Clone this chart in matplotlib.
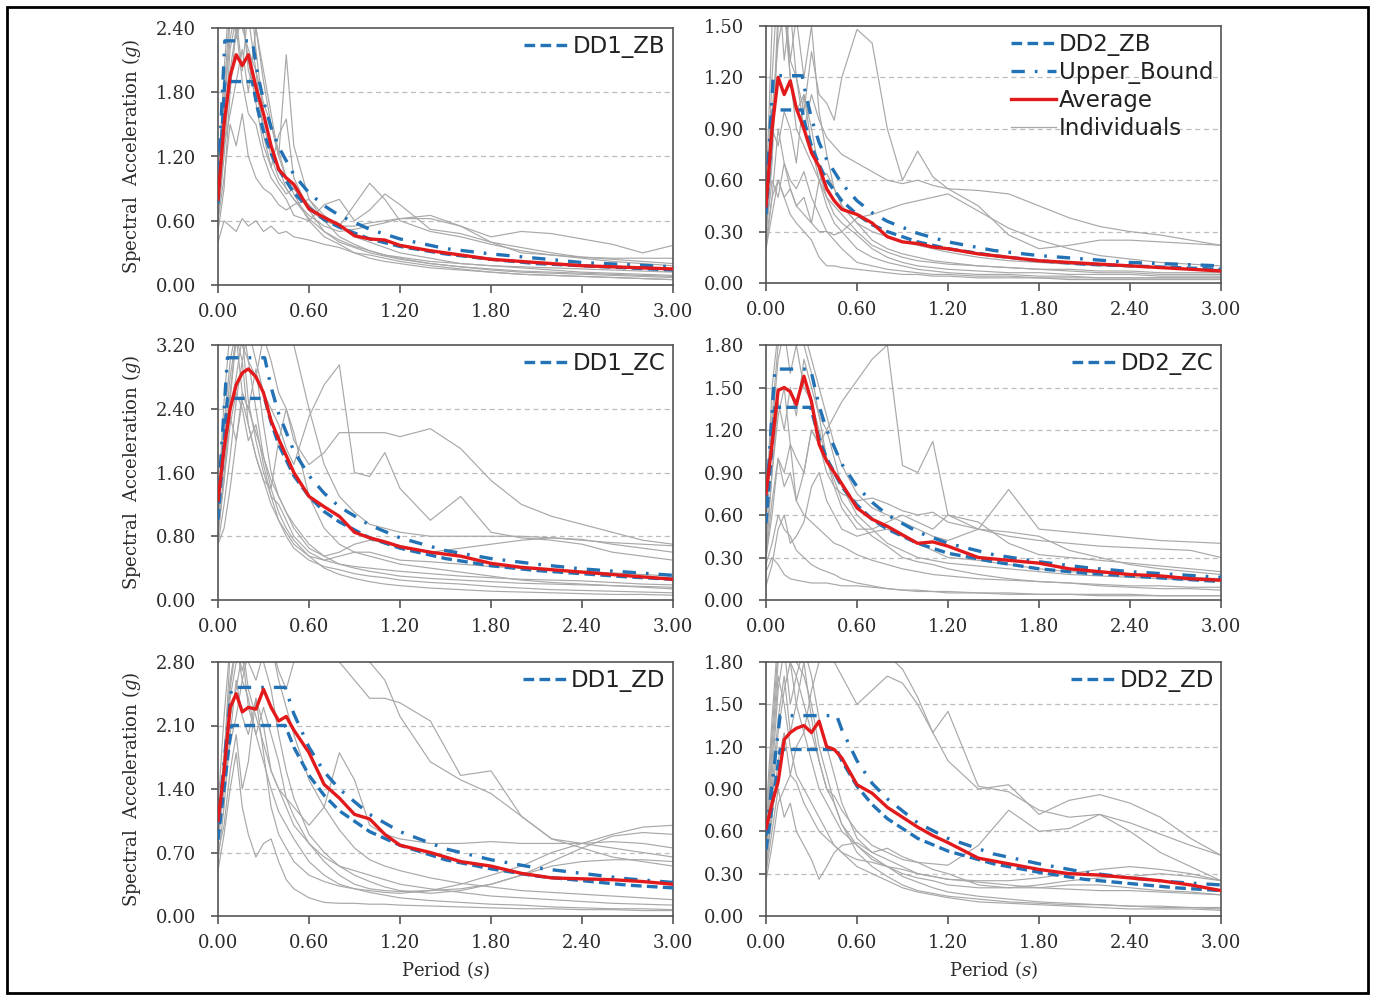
import matplotlib
matplotlib.use("Agg")
import matplotlib.pyplot as plt
from matplotlib.lines import Line2D
from matplotlib.patches import Rectangle

plt.rcParams['mathtext.fontset'] = 'dejavuserif'

# ---------------- data ----------------
T_REC = [0.0, 0.04, 0.08, 0.12, 0.16, 0.2, 0.25, 0.3, 0.35, 0.4, 0.45, 0.5,
         0.6, 0.7, 0.8, 0.9, 1.0, 1.1, 1.2,
         1.4, 1.6, 1.8, 2.0, 2.2, 2.4, 2.6, 2.8, 3.0]

X_TICKS = [0.0, 0.6, 1.2, 1.8, 2.4, 3.0]

# ---- DD1_ZB ----
DD1_ZB_T = [0, 0.045, 0.226, 0.26, 0.3, 0.35, 0.4, 0.5, 0.6, 0.7, 0.8, 1.0, 1.2, 1.5, 1.8, 2.1, 2.4, 2.7, 3.0]
DD1_ZB_DESIGN = [0.76, 1.90, 1.90, 1.65, 1.43, 1.23, 1.08, 0.86, 0.72, 0.61, 0.54, 0.43, 0.36, 0.29, 0.24, 0.20, 0.18, 0.16, 0.14]
DD1_ZB_UPPER = [0.91, 2.28, 2.28, 1.98, 1.72, 1.47, 1.29, 1.03, 0.86, 0.74, 0.65, 0.52, 0.43, 0.34, 0.29, 0.25, 0.21, 0.19, 0.17]
DD1_ZB_AVG = [0.8, 1.5, 1.95, 2.15, 2.05, 2.15, 1.85, 1.6, 1.3, 1.08, 1.0, 0.94,
              0.71, 0.63, 0.56, 0.46, 0.43, 0.42, 0.37,
              0.32, 0.28, 0.24, 0.22, 0.2, 0.18, 0.17, 0.16, 0.15]
DD1_ZB_IND = [
    [0.9, 1.8, 2.6, 3.0, 2.7, 2.9, 2.2, 1.6, 1.3, 1.1, 0.9, 0.8, 0.62, 0.5, 0.42, 0.36, 0.32, 0.28, 0.25, 0.2, 0.17, 0.14, 0.12, 0.11, 0.1, 0.09, 0.08, 0.07],
    [0.7, 1.4, 2.2, 2.5, 2.0, 2.6, 2.4, 1.9, 1.5, 1.2, 2.15, 1.3, 0.8, 0.65, 0.55, 0.45, 0.4, 0.35, 0.3, 0.25, 0.2, 0.18, 0.16, 0.14, 0.12, 0.11, 0.1, 0.09],
    [0.4, 0.6, 0.55, 0.5, 0.62, 0.55, 0.6, 0.5, 0.55, 0.48, 0.5, 0.45, 0.42, 0.38, 0.35, 0.3, 0.28, 0.25, 0.22, 0.18, 0.15, 0.12, 0.1, 0.09, 0.08, 0.07, 0.06, 0.05],
    [0.6, 1.0, 1.5, 1.3, 1.6, 1.2, 1.0, 0.9, 0.85, 0.75, 0.7, 0.75, 0.8, 0.6, 0.55, 0.75, 0.95, 0.8, 0.6, 0.5, 0.45, 0.38, 0.32, 0.28, 0.25, 0.22, 0.2, 0.18],
    [0.5, 0.9, 1.8, 2.4, 1.9, 1.6, 1.5, 1.2, 1.0, 0.9, 0.8, 0.65, 0.6, 0.75, 0.8, 0.6, 0.7, 0.85, 0.75, 0.52, 0.48, 0.4, 0.35, 0.3, 0.26, 0.24, 0.22, 0.2],
    [0.8, 1.6, 2.5, 2.8, 2.4, 2.2, 2.0, 1.7, 1.5, 1.25, 1.0, 0.9, 0.75, 0.6, 0.55, 0.55, 0.58, 0.6, 0.62, 0.62, 0.55, 0.45, 0.5, 0.48, 0.43, 0.38, 0.3, 0.37],
    [0.6, 1.2, 2.0, 2.4, 2.6, 2.0, 1.8, 1.5, 1.2, 1.0, 0.9, 0.8, 0.65, 0.55, 0.5, 0.52, 0.55, 0.58, 0.62, 0.65, 0.55, 0.4, 0.3, 0.28, 0.26, 0.25, 0.25, 0.25],
    [0.9, 2.0, 2.8, 2.3, 2.5, 2.1, 1.7, 1.3, 1.1, 1.4, 1.55, 1.0, 0.7, 0.5, 0.4, 0.35, 0.3, 0.27, 0.24, 0.2, 0.17, 0.15, 0.13, 0.12, 0.11, 0.1, 0.09, 0.08],
    [0.7, 1.3, 1.6, 1.9, 2.2, 1.8, 2.4, 2.0, 1.6, 1.2, 1.0, 0.85, 0.6, 0.45, 0.38, 0.3, 0.25, 0.22, 0.2, 0.16, 0.14, 0.12, 0.1, 0.09, 0.08, 0.07, 0.06, 0.05],
    [1.0, 1.7, 2.3, 2.6, 2.9, 2.5, 2.0, 1.4, 1.1, 0.95, 0.85, 0.9, 0.7, 0.6, 0.45, 0.38, 0.32, 0.28, 0.26, 0.22, 0.2, 0.18, 0.17, 0.16, 0.15, 0.14, 0.13, 0.12],
]

# ---- DD2_ZB ----
DD2_ZB_T = [0, 0.048, 0.238, 0.26, 0.3, 0.35, 0.4, 0.5, 0.6, 0.7, 0.8, 1.0, 1.2, 1.5, 1.8, 2.1, 2.4, 2.7, 3.0]
DD2_ZB_DESIGN = [0.40, 1.01, 1.01, 0.92, 0.80, 0.69, 0.60, 0.48, 0.40, 0.34, 0.30, 0.24, 0.20, 0.16, 0.13, 0.11, 0.10, 0.09, 0.08]
DD2_ZB_UPPER = [0.48, 1.21, 1.21, 1.11, 0.96, 0.82, 0.72, 0.58, 0.48, 0.41, 0.36, 0.29, 0.24, 0.19, 0.16, 0.14, 0.12, 0.11, 0.10]
DD2_ZB_AVG = [0.45, 0.9, 1.2, 1.1, 1.18, 1.02, 0.9, 0.76, 0.68, 0.55, 0.48, 0.43,
              0.4, 0.35, 0.27, 0.24, 0.23, 0.21, 0.2,
              0.17, 0.15, 0.13, 0.12, 0.11, 0.1, 0.09, 0.08, 0.07]
DD2_ZB_IND = [
    [0.3, 0.8, 1.6, 1.7, 1.3, 1.2, 1.0, 1.35, 1.1, 1.05, 0.95, 1.2, 1.48, 1.4, 0.9, 0.6, 0.77, 0.62, 0.55, 0.45, 0.28, 0.2, 0.22, 0.25, 0.25, 0.24, 0.23, 0.22],
    [0.4, 1.2, 1.8, 1.3, 1.6, 1.2, 0.9, 1.1, 0.95, 0.85, 0.8, 0.75, 0.7, 0.65, 0.6, 0.58, 0.6, 0.57, 0.55, 0.54, 0.52, 0.45, 0.38, 0.33, 0.3, 0.28, 0.25, 0.22],
    [0.2, 0.5, 0.6, 0.5, 0.55, 0.45, 0.4, 0.35, 0.3, 0.3, 0.28, 0.3, 0.38, 0.4, 0.43, 0.46, 0.48, 0.5, 0.52, 0.42, 0.32, 0.25, 0.2, 0.16, 0.14, 0.12, 0.11, 0.1],
    [0.5, 1.5, 1.8, 1.6, 1.3, 1.55, 1.2, 1.5, 1.0, 0.75, 0.55, 0.45, 0.35, 0.25, 0.2, 0.17, 0.15, 0.13, 0.12, 0.1, 0.09, 0.08, 0.07, 0.06, 0.06, 0.05, 0.05, 0.05],
    [0.3, 0.6, 0.5, 0.7, 0.55, 0.45, 0.5, 0.35, 0.6, 0.45, 0.35, 0.3, 0.2, 0.15, 0.12, 0.1, 0.08, 0.07, 0.06, 0.05, 0.05, 0.04, 0.04, 0.03, 0.03, 0.03, 0.03, 0.03],
    [0.4, 1.0, 1.4, 1.6, 1.2, 1.0, 1.1, 0.9, 0.65, 0.5, 0.45, 0.4, 0.3, 0.22, 0.18, 0.15, 0.13, 0.12, 0.11, 0.1, 0.09, 0.08, 0.08, 0.07, 0.07, 0.06, 0.06, 0.06],
    [0.2, 0.4, 0.6, 0.5, 0.4, 0.35, 0.3, 0.25, 0.15, 0.1, 0.1, 0.09, 0.08, 0.07, 0.06, 0.05, 0.05, 0.04, 0.04, 0.03, 0.03, 0.03, 0.02, 0.02, 0.02, 0.02, 0.02, 0.02],
    [0.35, 0.9, 0.8, 1.0, 0.9, 0.7, 1.1, 0.8, 0.6, 0.5, 0.4, 0.35, 0.28, 0.2, 0.15, 0.12, 0.1, 0.09, 0.08, 0.07, 0.06, 0.06, 0.05, 0.05, 0.05, 0.04, 0.04, 0.04],
    [0.3, 0.7, 1.5, 1.7, 1.2, 0.9, 0.8, 0.7, 0.6, 0.64, 0.55, 0.45, 0.35, 0.3, 0.27, 0.24, 0.22, 0.2, 0.18, 0.15, 0.13, 0.12, 0.11, 0.1, 0.1, 0.09, 0.08, 0.08],
    [0.25, 0.5, 0.9, 0.7, 0.6, 0.55, 0.65, 0.5, 0.4, 0.3, 0.25, 0.2, 0.12, 0.1, 0.08, 0.07, 0.06, 0.05, 0.05, 0.04, 0.04, 0.03, 0.03, 0.03, 0.03, 0.03, 0.03, 0.03],
]

# ---- DD1_ZC ----
DD1_ZC_T = [0, 0.062, 0.308, 0.35, 0.4, 0.5, 0.6, 0.7, 0.8, 1.0, 1.2, 1.5, 1.8, 2.1, 2.4, 2.7, 3.0]
DD1_ZC_DESIGN = [1.01, 2.53, 2.53, 2.23, 1.95, 1.56, 1.30, 1.11, 0.98, 0.78, 0.65, 0.52, 0.43, 0.37, 0.33, 0.29, 0.26]
DD1_ZC_UPPER = [1.21, 3.04, 3.04, 2.67, 2.34, 1.87, 1.56, 1.34, 1.17, 0.94, 0.78, 0.62, 0.52, 0.45, 0.39, 0.35, 0.31]
DD1_ZC_AVG = [1.25, 1.9, 2.4, 2.7, 2.85, 2.9, 2.8, 2.6, 2.25, 2.02, 1.81, 1.6,
              1.3, 1.17, 1.05, 0.85, 0.78, 0.73, 0.67,
              0.6, 0.55, 0.46, 0.41, 0.38, 0.35, 0.32, 0.29, 0.26]
DD1_ZC_IND = [
    [0.8, 1.5, 2.5, 3.3, 3.0, 3.4, 3.0, 2.6, 2.4, 2.2, 1.9, 1.7, 2.3, 2.7, 2.95, 1.6, 1.55, 1.85, 1.4, 1.0, 1.3, 0.85, 0.78, 0.75, 0.7, 0.6, 0.55, 0.5],
    [1.0, 1.8, 2.6, 3.3, 3.5, 3.0, 2.8, 3.3, 3.0, 2.6, 2.4, 2.0, 1.7, 1.85, 2.1, 2.1, 2.1, 2.1, 2.05, 2.15, 1.9, 1.5, 1.2, 1.05, 0.95, 0.85, 0.75, 0.7],
    [1.2, 2.5, 3.4, 3.6, 3.5, 3.4, 3.5, 3.6, 3.5, 3.4, 3.3, 3.2, 2.4, 1.7, 1.3, 1.1, 0.95, 0.9, 0.85, 0.8, 0.8, 0.8, 0.8, 0.78, 0.75, 0.72, 0.7, 0.68],
    [0.7, 1.2, 1.8, 2.5, 3.0, 2.2, 1.8, 1.5, 1.4, 2.0, 2.4, 2.1, 1.3, 0.9, 0.7, 0.6, 0.55, 0.5, 0.45, 0.4, 0.35, 0.3, 0.25, 0.22, 0.2, 0.18, 0.16, 0.14],
    [1.0, 2.0, 2.8, 3.3, 2.6, 2.4, 2.9, 2.2, 1.6, 1.3, 1.1, 0.9, 0.65, 0.55, 0.6, 0.7, 0.75, 0.72, 0.65, 0.6, 0.65, 0.7, 0.75, 0.78, 0.76, 0.7, 0.65, 0.6],
    [0.9, 1.5, 2.2, 2.6, 2.4, 2.0, 2.2, 1.7, 1.3, 1.0, 0.8, 0.65, 0.5, 0.42, 0.38, 0.33, 0.3, 0.28, 0.25, 0.22, 0.2, 0.17, 0.15, 0.13, 0.12, 0.11, 0.1, 0.09],
    [0.7, 0.9, 1.4, 2.0, 2.5, 2.2, 1.8, 1.5, 1.2, 1.0, 0.85, 0.7, 0.55, 0.5, 0.55, 0.6, 0.6, 0.55, 0.5, 0.48, 0.45, 0.42, 0.4, 0.38, 0.36, 0.34, 0.32, 0.3],
    [1.1, 2.2, 3.0, 3.4, 3.2, 3.0, 2.4, 1.8, 1.4, 1.1, 0.9, 0.75, 0.55, 0.4, 0.32, 0.27, 0.23, 0.2, 0.18, 0.15, 0.13, 0.11, 0.1, 0.09, 0.08, 0.07, 0.07, 0.06],
    [0.8, 1.6, 2.4, 2.8, 3.3, 2.5, 2.0, 1.6, 1.3, 1.2, 1.0, 0.8, 0.6, 0.5, 0.45, 0.42, 0.4, 0.38, 0.36, 0.33, 0.3, 0.28, 0.26, 0.25, 0.24, 0.22, 0.2, 0.19],
    [1.2, 1.9, 2.3, 2.0, 2.6, 2.4, 2.1, 1.8, 1.5, 1.3, 1.1, 0.95, 0.7, 0.55, 0.45, 0.4, 0.36, 0.33, 0.3, 0.27, 0.25, 0.23, 0.21, 0.2, 0.19, 0.18, 0.17, 0.16],
]

# ---- DD2_ZC ----
DD2_ZC_T = [0, 0.059, 0.294, 0.35, 0.4, 0.5, 0.6, 0.7, 0.8, 1.0, 1.2, 1.5, 1.8, 2.1, 2.4, 2.7, 3.0]
DD2_ZC_DESIGN = [0.54, 1.36, 1.36, 1.14, 1.00, 0.80, 0.67, 0.57, 0.50, 0.40, 0.33, 0.27, 0.22, 0.19, 0.17, 0.15, 0.13]
DD2_ZC_UPPER = [0.65, 1.63, 1.63, 1.37, 1.20, 0.96, 0.80, 0.69, 0.60, 0.48, 0.40, 0.32, 0.27, 0.23, 0.20, 0.18, 0.16]
DD2_ZC_AVG = [0.75, 1.1, 1.48, 1.5, 1.47, 1.38, 1.58, 1.4, 1.1, 0.98, 0.9, 0.82,
              0.65, 0.57, 0.52, 0.46, 0.4, 0.41, 0.38,
              0.3, 0.28, 0.26, 0.22, 0.2, 0.18, 0.17, 0.15, 0.14]
DD2_ZC_IND = [
    [0.3, 0.9, 1.3, 1.5, 1.1, 1.0, 0.9, 1.2, 1.1, 1.2, 1.3, 1.4, 1.55, 1.7, 1.8, 0.95, 0.9, 1.12, 0.6, 0.5, 0.48, 0.45, 0.35, 0.3, 0.25, 0.22, 0.2, 0.18],
    [0.6, 1.5, 1.9, 2.0, 1.9, 1.8, 1.9, 1.7, 1.5, 1.3, 1.1, 0.95, 0.75, 0.65, 0.6, 0.55, 0.5, 0.45, 0.42, 0.5, 0.78, 0.5, 0.48, 0.46, 0.44, 0.42, 0.41, 0.4],
    [0.3, 0.6, 1.0, 0.9, 1.1, 0.7, 0.9, 1.2, 1.1, 0.9, 0.8, 0.75, 0.7, 0.72, 0.68, 0.63, 0.6, 0.62, 0.55, 0.5, 0.45, 0.42, 0.4, 0.38, 0.37, 0.36, 0.35, 0.3],
    [0.1, 0.25, 0.5, 0.6, 0.4, 0.45, 0.55, 0.8, 0.9, 0.7, 0.6, 0.5, 0.45, 0.48, 0.5, 0.45, 0.4, 0.35, 0.3, 0.28, 0.25, 0.22, 0.2, 0.19, 0.18, 0.17, 0.16, 0.15],
    [0.2, 0.3, 0.25, 0.18, 0.15, 0.14, 0.13, 0.12, 0.12, 0.12, 0.11, 0.1, 0.1, 0.09, 0.08, 0.07, 0.07, 0.06, 0.06, 0.05, 0.05, 0.04, 0.04, 0.04, 0.04, 0.03, 0.03, 0.03],
    [0.5, 1.2, 1.7, 1.9, 1.6, 1.8, 1.5, 1.4, 1.2, 1.0, 0.85, 0.7, 0.55, 0.45, 0.38, 0.3, 0.27, 0.25, 0.22, 0.18, 0.15, 0.13, 0.12, 0.1, 0.09, 0.08, 0.08, 0.07],
    [0.4, 0.9, 1.4, 1.2, 1.5, 1.3, 1.7, 1.5, 1.3, 1.0, 0.8, 0.65, 0.5, 0.5, 0.55, 0.6, 0.55, 0.5, 0.6, 0.55, 0.4, 0.32, 0.3, 0.28, 0.26, 0.24, 0.22, 0.2],
    [0.3, 0.7, 1.0, 0.8, 0.9, 0.7, 0.6, 0.55, 0.5, 0.45, 0.4, 0.38, 0.32, 0.28, 0.25, 0.22, 0.2, 0.18, 0.17, 0.15, 0.14, 0.13, 0.12, 0.11, 0.1, 0.1, 0.09, 0.09],
    [0.6, 1.3, 1.8, 2.0, 1.9, 2.0, 1.8, 1.6, 1.3, 1.2, 1.0, 0.8, 0.6, 0.5, 0.4, 0.35, 0.3, 0.28, 0.26, 0.24, 0.22, 0.2, 0.18, 0.17, 0.16, 0.15, 0.14, 0.13],
    [0.25, 0.4, 0.6, 0.5, 0.45, 0.35, 0.3, 0.25, 0.22, 0.2, 0.18, 0.15, 0.12, 0.1, 0.08, 0.07, 0.06, 0.06, 0.05, 0.05, 0.04, 0.04, 0.04, 0.03, 0.03, 0.03, 0.03, 0.03],
]

# ---- DD1_ZD ----
DD1_ZD_T = [0, 0.089, 0.443, 0.5, 0.6, 0.7, 0.8, 1.0, 1.2, 1.5, 1.8, 2.1, 2.4, 2.7, 3.0]
DD1_ZD_DESIGN = [0.84, 2.10, 2.10, 1.86, 1.55, 1.33, 1.16, 0.93, 0.78, 0.62, 0.52, 0.44, 0.39, 0.34, 0.31]
DD1_ZD_UPPER = [1.01, 2.52, 2.52, 2.23, 1.86, 1.59, 1.40, 1.12, 0.93, 0.74, 0.62, 0.53, 0.47, 0.41, 0.37]
DD1_ZD_AVG = [1.05, 1.6, 2.3, 2.45, 2.25, 2.3, 2.28, 2.5, 2.3, 2.15, 2.2, 2.05,
              1.8, 1.45, 1.3, 1.12, 1.07, 0.9, 0.78,
              0.7, 0.6, 0.55, 0.47, 0.42, 0.41, 0.4, 0.38, 0.35]
DD1_ZD_IND = [
    [0.8, 1.5, 2.5, 3.0, 2.9, 3.0, 2.8, 3.0, 3.0, 2.9, 2.9, 2.9, 2.9, 2.9, 2.85, 2.85, 2.8, 2.6, 2.2, 1.7, 1.5, 1.35, 1.1, 0.85, 0.75, 0.65, 0.6, 0.55],
    [1.0, 1.8, 2.6, 3.0, 2.7, 3.0, 2.9, 2.9, 3.0, 2.7, 2.5, 2.8, 2.9, 2.9, 2.8, 2.6, 2.4, 2.4, 2.35, 2.15, 1.55, 1.6, 1.1, 0.85, 0.8, 0.75, 0.7, 0.65],
    [0.6, 1.2, 2.0, 2.6, 2.2, 2.0, 2.4, 2.1, 1.6, 1.4, 1.3, 1.2, 1.0, 1.2, 1.8, 1.5, 1.0, 0.9, 0.85, 0.8, 0.8, 0.82, 0.8, 0.8, 0.8, 0.82, 0.8, 0.75],
    [0.7, 1.0, 1.6, 2.0, 1.4, 1.7, 2.4, 1.8, 1.2, 0.9, 0.75, 0.6, 0.45, 0.38, 0.33, 0.3, 0.28, 0.26, 0.25, 0.28, 0.35, 0.45, 0.55, 0.7, 0.8, 0.9, 0.98, 1.0],
    [1.0, 1.7, 2.9, 3.0, 2.6, 2.9, 3.0, 2.8, 2.5, 2.0, 1.6, 1.3, 0.9, 0.7, 0.55, 0.45, 0.38, 0.32, 0.28, 0.25, 0.28, 0.35, 0.45, 0.6, 0.75, 0.88, 0.92, 0.9],
    [0.5, 0.9, 1.4, 1.8, 1.2, 0.9, 0.65, 0.8, 0.85, 0.6, 0.4, 0.3, 0.2, 0.15, 0.14, 0.14, 0.13, 0.13, 0.12, 0.11, 0.1, 0.09, 0.08, 0.08, 0.07, 0.07, 0.06, 0.06],
    [0.9, 1.6, 2.4, 2.8, 3.0, 2.5, 2.2, 1.9, 1.6, 1.4, 1.2, 1.0, 0.8, 0.65, 0.55, 0.5, 0.45, 0.4, 0.35, 0.3, 0.26, 0.22, 0.2, 0.18, 0.16, 0.14, 0.13, 0.12],
    [0.8, 1.4, 2.2, 2.5, 2.9, 2.3, 2.0, 2.3, 2.0, 1.7, 1.3, 1.1, 0.8, 0.6, 0.45, 0.35, 0.3, 0.28, 0.27, 0.28, 0.3, 0.35, 0.45, 0.55, 0.6, 0.62, 0.62, 0.6],
    [1.0, 1.5, 1.9, 2.2, 2.6, 2.4, 2.0, 1.7, 1.4, 1.15, 1.0, 0.85, 0.6, 0.45, 0.35, 0.3, 0.26, 0.23, 0.2, 0.17, 0.15, 0.13, 0.12, 0.1, 0.09, 0.08, 0.08, 0.07],
    [1.2, 2.2, 3.0, 3.0, 3.0, 2.8, 2.6, 2.9, 3.0, 2.6, 2.3, 2.0, 1.5, 1.2, 0.95, 0.75, 0.62, 0.55, 0.5, 0.42, 0.36, 0.32, 0.28, 0.26, 0.24, 0.22, 0.2, 0.18],
]

# ---- DD2_ZD ----
DD2_ZD_T = [0, 0.093, 0.466, 0.5, 0.6, 0.7, 0.8, 1.0, 1.2, 1.5, 1.8, 2.1, 2.4, 2.7, 3.0]
DD2_ZD_DESIGN = [0.47, 1.18, 1.18, 1.10, 0.92, 0.79, 0.69, 0.55, 0.46, 0.37, 0.31, 0.26, 0.23, 0.20, 0.18]
DD2_ZD_UPPER = [0.57, 1.42, 1.42, 1.32, 1.10, 0.94, 0.83, 0.66, 0.55, 0.44, 0.37, 0.31, 0.27, 0.24, 0.22]
DD2_ZD_AVG = [0.62, 0.8, 0.95, 1.25, 1.3, 1.33, 1.35, 1.3, 1.38, 1.2, 1.18, 1.12,
              0.93, 0.87, 0.77, 0.7, 0.63, 0.57, 0.52,
              0.41, 0.37, 0.33, 0.3, 0.29, 0.27, 0.25, 0.22, 0.18]
DD2_ZD_IND = [
    [0.5, 1.2, 1.8, 2.0, 1.9, 2.0, 1.9, 2.0, 1.9, 1.8, 1.9, 2.0, 1.95, 1.9, 1.85, 1.75, 1.55, 1.3, 1.45, 0.92, 0.88, 0.75, 0.7, 0.72, 0.66, 0.58, 0.5, 0.43],
    [0.3, 0.8, 1.3, 1.6, 1.8, 1.5, 1.3, 1.6, 1.8, 1.9, 1.8, 1.7, 1.5, 1.6, 1.7, 1.65, 1.5, 1.3, 1.1, 0.9, 0.93, 0.72, 0.82, 0.86, 0.8, 0.7, 0.55, 0.43],
    [0.4, 0.9, 1.4, 1.7, 1.3, 1.5, 1.8, 1.4, 1.1, 0.9, 0.85, 0.75, 0.6, 0.5, 0.45, 0.4, 0.38, 0.37, 0.36, 0.5, 0.75, 0.6, 0.62, 0.72, 0.6, 0.45, 0.35, 0.25],
    [0.3, 0.6, 0.9, 0.7, 0.8, 0.6, 0.5, 0.4, 0.26, 0.35, 0.45, 0.5, 0.52, 0.45, 0.4, 0.35, 0.3, 0.28, 0.26, 0.25, 0.25, 0.27, 0.3, 0.33, 0.35, 0.33, 0.3, 0.25],
    [0.6, 1.3, 1.9, 2.0, 1.8, 1.7, 1.5, 1.3, 1.1, 0.9, 0.8, 0.65, 0.5, 0.42, 0.35, 0.28, 0.24, 0.2, 0.17, 0.14, 0.12, 0.1, 0.09, 0.08, 0.07, 0.06, 0.06, 0.05],
    [0.4, 1.0, 1.6, 1.9, 1.5, 1.7, 1.9, 1.7, 1.4, 1.2, 1.0, 0.8, 0.55, 0.45, 0.48, 0.42, 0.38, 0.33, 0.3, 0.22, 0.2, 0.22, 0.25, 0.27, 0.28, 0.3, 0.28, 0.25],
    [0.5, 1.1, 1.7, 1.5, 1.2, 1.0, 0.9, 0.8, 0.7, 0.6, 0.5, 0.45, 0.35, 0.3, 0.25, 0.2, 0.17, 0.15, 0.13, 0.1, 0.09, 0.08, 0.07, 0.06, 0.05, 0.05, 0.05, 0.04],
    [0.35, 0.7, 1.1, 1.3, 1.0, 1.2, 1.3, 1.1, 0.9, 0.8, 0.7, 0.6, 0.5, 0.4, 0.35, 0.3, 0.27, 0.25, 0.22, 0.2, 0.2, 0.2, 0.22, 0.22, 0.2, 0.18, 0.17, 0.15],
    [0.7, 1.4, 2.0, 1.9, 2.0, 1.8, 1.7, 1.5, 1.2, 1.0, 0.8, 0.65, 0.45, 0.35, 0.28, 0.22, 0.18, 0.16, 0.14, 0.12, 0.1, 0.09, 0.08, 0.08, 0.07, 0.07, 0.06, 0.06],
    [0.25, 0.5, 0.8, 0.9, 1.0, 0.95, 0.8, 0.7, 0.6, 0.55, 0.5, 0.45, 0.4, 0.38, 0.35, 0.33, 0.3, 0.28, 0.26, 0.24, 0.22, 0.2, 0.19, 0.18, 0.18, 0.17, 0.16, 0.15],
]

Y_TICKS_DD1_ZB = [0.0, 0.6, 1.2, 1.8, 2.4]
Y_TICKS_DD2_ZB = [0.0, 0.3, 0.6, 0.9, 1.2, 1.5]
Y_TICKS_DD1_ZC = [0.0, 0.8, 1.6, 2.4, 3.2]
Y_TICKS_DD2_ZC = [0.0, 0.3, 0.6, 0.9, 1.2, 1.5, 1.8]
Y_TICKS_DD1_ZD = [0.0, 0.7, 1.4, 2.1, 2.8]
Y_TICKS_DD2_ZD = [0.0, 0.3, 0.6, 0.9, 1.2, 1.5, 1.8]

# ---------------- styling ----------------
BLUE = '#2272b5'
RED = '#e31a1c'
GRAY = '#a8a8a8'
SPINE = '#555555'
TXT = '#2b2b2b'
SERIF = 'DejaVu Serif'
SANS = 'DejaVu Sans'

fig = plt.figure(figsize=(13.75, 9.96), dpi=100)
W, H = 1375.0, 996.0

def add_ax(x0, x1, ytop, ybot):
    return fig.add_axes([x0 / W, 1 - ybot / H, (x1 - x0) / W, (ybot - ytop) / H])

panels = [
    ('DD1_ZB', DD1_ZB_T, DD1_ZB_DESIGN, DD1_ZB_UPPER, DD1_ZB_AVG, DD1_ZB_IND, Y_TICKS_DD1_ZB, (218, 673, 28, 285), True, False, False),
    ('DD2_ZB', DD2_ZB_T, DD2_ZB_DESIGN, DD2_ZB_UPPER, DD2_ZB_AVG, DD2_ZB_IND, Y_TICKS_DD2_ZB, (766, 1221, 26, 283), False, False, True),
    ('DD1_ZC', DD1_ZC_T, DD1_ZC_DESIGN, DD1_ZC_UPPER, DD1_ZC_AVG, DD1_ZC_IND, Y_TICKS_DD1_ZC, (218, 673, 345, 600), True, False, False),
    ('DD2_ZC', DD2_ZC_T, DD2_ZC_DESIGN, DD2_ZC_UPPER, DD2_ZC_AVG, DD2_ZC_IND, Y_TICKS_DD2_ZC, (766, 1221, 345, 600), False, False, False),
    ('DD1_ZD', DD1_ZD_T, DD1_ZD_DESIGN, DD1_ZD_UPPER, DD1_ZD_AVG, DD1_ZD_IND, Y_TICKS_DD1_ZD, (218, 673, 662, 916), True, True, False),
    ('DD2_ZD', DD2_ZD_T, DD2_ZD_DESIGN, DD2_ZD_UPPER, DD2_ZD_AVG, DD2_ZD_IND, Y_TICKS_DD2_ZD, (766, 1221, 662, 916), False, True, False),
]

DESIGN_LS = (0, (3.2, 1.6))
UPPER_LS = (0, (4.0, 3.0, 0.8, 3.0))

for name, td, design, upper, avg, ind, yt, box, is_left, is_bottom, full_leg in panels:
    ax = add_ax(*box)
    for rec in ind:
        ax.plot(T_REC, rec, color=GRAY, lw=0.85, zorder=2)
    ax.plot(td, upper, color=BLUE, lw=2.4, ls=UPPER_LS, zorder=3)
    ax.plot(td, design, color=BLUE, lw=2.4, ls=DESIGN_LS, zorder=4)
    ax.plot(T_REC, avg, color=RED, lw=2.4, zorder=5)

    ax.set_xlim(0, 3.0)
    ax.set_ylim(yt[0], yt[-1])
    ax.set_xticks(X_TICKS)
    ax.set_yticks(yt)
    ax.set_xticklabels(['%.2f' % v for v in X_TICKS])
    ax.set_yticklabels(['%.2f' % v for v in yt])
    for lab in ax.get_xticklabels() + ax.get_yticklabels():
        lab.set_fontfamily(SERIF)
        lab.set_fontsize(13)
        lab.set_color(TXT)
    ax.tick_params(axis='x', direction='out', length=6, width=1.2, color=SPINE, pad=7)
    ax.tick_params(axis='y', direction='out', length=5, width=1.2, color=SPINE, pad=11)
    for s in ax.spines.values():
        s.set_color(SPINE)
        s.set_linewidth(1.2)
    for v in yt[1:-1]:
        ax.axhline(v, color='#bdbdbd', lw=0.9, ls=(0, (4, 3)), zorder=1)

    if is_left:
        ax.set_ylabel(r'Spectral  Acceleration ($\mathit{g}$)', fontfamily=SERIF,
                      fontsize=13, color=TXT)
        ax.yaxis.set_label_coords(-0.165, 0.5)
    if is_bottom:
        ax.set_xlabel(r'Period ($\mathit{s}$)', fontfamily=SERIF, fontsize=13, color=TXT)
        ax.xaxis.set_label_coords(0.5, -0.17)

    h_design = Line2D([], [], color=BLUE, lw=2.4, ls=DESIGN_LS)
    if full_leg:
        h_up = Line2D([], [], color=BLUE, lw=2.4, ls=UPPER_LS)
        h_avg = Line2D([], [], color=RED, lw=2.4)
        h_ind = Line2D([], [], color=GRAY, lw=0.9)
        handles = [h_design, h_up, h_avg, h_ind]
        labels = [name, 'Upper_Bound', 'Average', 'Individuals']
    else:
        handles = [h_design]
        labels = [name]
    leg = ax.legend(handles, labels, loc='upper right', frameon=False,
                    prop={'family': SANS, 'size': 16.5}, handlelength=2.0,
                    handletextpad=0.12, labelspacing=0.22, borderaxespad=0.12,
                    borderpad=0.2)
    for t in leg.get_texts():
        t.set_color('#222222')

# outer frame
fig.patches.append(Rectangle((7 / W, 3 / H), 1361 / W, 986 / H, transform=fig.transFigure,
                             fill=False, edgecolor='black', lw=2.0))

fig.savefig('out.png', dpi=100)
